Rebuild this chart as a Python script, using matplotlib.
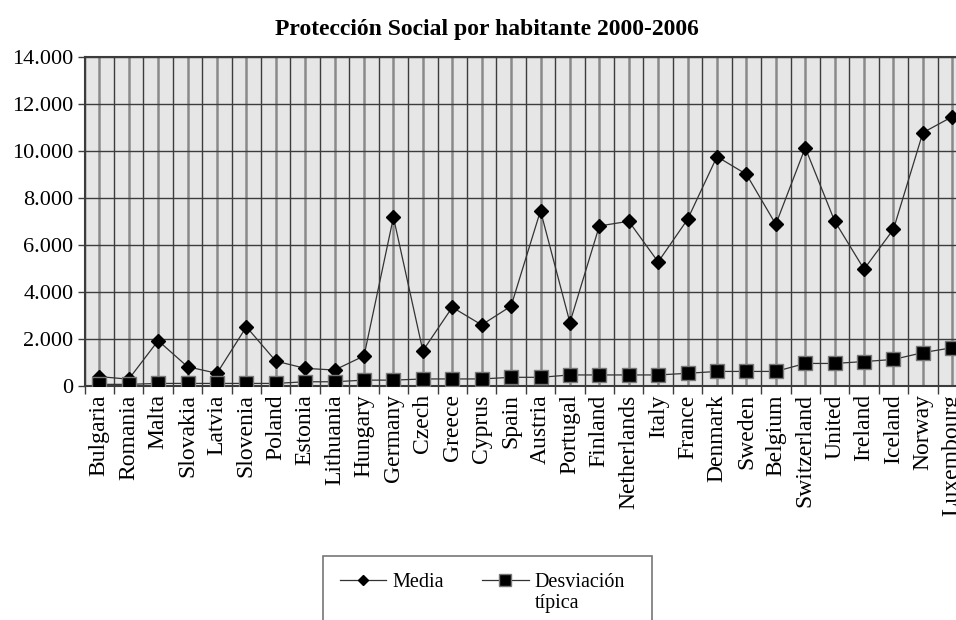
import numpy as np
import matplotlib
matplotlib.use("Agg")
import matplotlib.pyplot as plt
from matplotlib.lines import Line2D
from matplotlib.ticker import FuncFormatter, FixedLocator

countries = ["Bulgaria", "Romania", "Malta", "Slovakia", "Latvia", "Slovenia",
             "Poland", "Estonia", "Lithuania", "Hungary", "Germany", "Czech",
             "Greece", "Cyprus", "Spain", "Austria", "Portugal", "Finland",
             "Netherlands", "Italy", "France", "Denmark", "Sweden", "Belgium",
             "Switzerland", "United", "Ireland", "Iceland", "Norway", "Luxembourg"]

media = [400, 290, 1930, 820, 540, 2520, 1060, 750, 680, 1280, 7180, 1500,
         3350, 2600, 3400, 7460, 2700, 6810, 7010, 5280, 7090, 9760, 9010,
         6880, 10140, 7020, 4970, 6670, 10780, 11460]

desviacion = [70, 70, 110, 110, 110, 110, 110, 180, 180, 250, 250, 300,
              300, 300, 370, 370, 470, 470, 470, 470, 540, 620, 620, 620,
              960, 960, 1040, 1130, 1420, 1630]

plt.rcParams['font.family'] = ['Liberation Serif', 'DejaVu Serif']

fig = plt.figure(figsize=(9.56, 6.20), dpi=100)
# axes runs past the right edge, like the cropped original
ax = fig.add_axes([84.6 / 956, 1 - 386 / 620, (967 - 84.6) / 956, (386 - 57) / 620])
ax.set_facecolor('#e6e6e6')

x = np.arange(len(countries))

# grid: dark lines between categories, lighter thick lines at categories
for xb in np.arange(-0.5, len(countries), 1.0):
    ax.axvline(xb, color='#3c3c3c', lw=1.0, zorder=1)
for xc in x:
    ax.axvline(xc, color='#8a8a8a', lw=1.8, zorder=1)
for yv in range(2000, 14001, 2000):
    ax.axhline(yv, color='#3c3c3c', lw=1.0, zorder=1)

l_media, = ax.plot(x, media, color='#333333', lw=0.9, marker='D', markersize=7,
                   markerfacecolor='black', markeredgecolor='black', zorder=3)
l_desv, = ax.plot(x, desviacion, color='#333333', lw=0.9, marker='s', markersize=10,
                  markerfacecolor='black', markeredgecolor='#777777',
                  markeredgewidth=1.0, zorder=3)

ax.set_xlim(-0.5, len(countries) - 0.5)
ax.set_ylim(0, 14000)
ax.set_yticks(range(0, 14001, 2000))
ax.yaxis.set_major_formatter(FuncFormatter(lambda v, p: f"{int(v):,}".replace(",", ".")))
ax.tick_params(axis='y', labelsize=16, length=5, width=1.0, color='#3c3c3c', pad=3)

ax.set_xticks(x)
ax.set_xticklabels(countries, rotation=90, fontsize=17)
ax.tick_params(axis='x', which='major', length=0, pad=6)
ax.xaxis.set_minor_locator(FixedLocator(np.arange(-0.5, len(countries), 1.0)))
ax.tick_params(axis='x', which='minor', length=6, width=1.0, color='#3c3c3c')

for s in ['left', 'top', 'bottom']:
    ax.spines[s].set_color('#3c3c3c')
    ax.spines[s].set_linewidth(1.5)
ax.spines['right'].set_visible(False)

fig.text(487 / 956, 1 - 30 / 620, "Protección Social por habitante 2000-2006",
         ha='center', va='center', fontsize=17, fontweight='bold')

# legend: second line of "Desviación típica" as its own row, extra blank row
# so the frame runs off the bottom like the original
blank = Line2D([], [], color='none')
handles = [l_media, blank, blank, l_desv, blank, blank]
labels = ["Media", " ", " ", "Desviación", "típica", " " * 20]
leg = fig.legend(handles, labels, loc='upper left',
                 bbox_to_anchor=(323 / 956, 1 - 556 / 620), borderaxespad=0,
                 ncol=2, fontsize=14.5, frameon=True, fancybox=False,
                 handlelength=2.3, handletextpad=0.3, columnspacing=1.9,
                 borderpad=0.85, labelspacing=0.1, markerscale=0.8,
                 edgecolor='#555555')
leg.get_frame().set_linewidth(1.2)

fig.savefig("out.png", dpi=100)
